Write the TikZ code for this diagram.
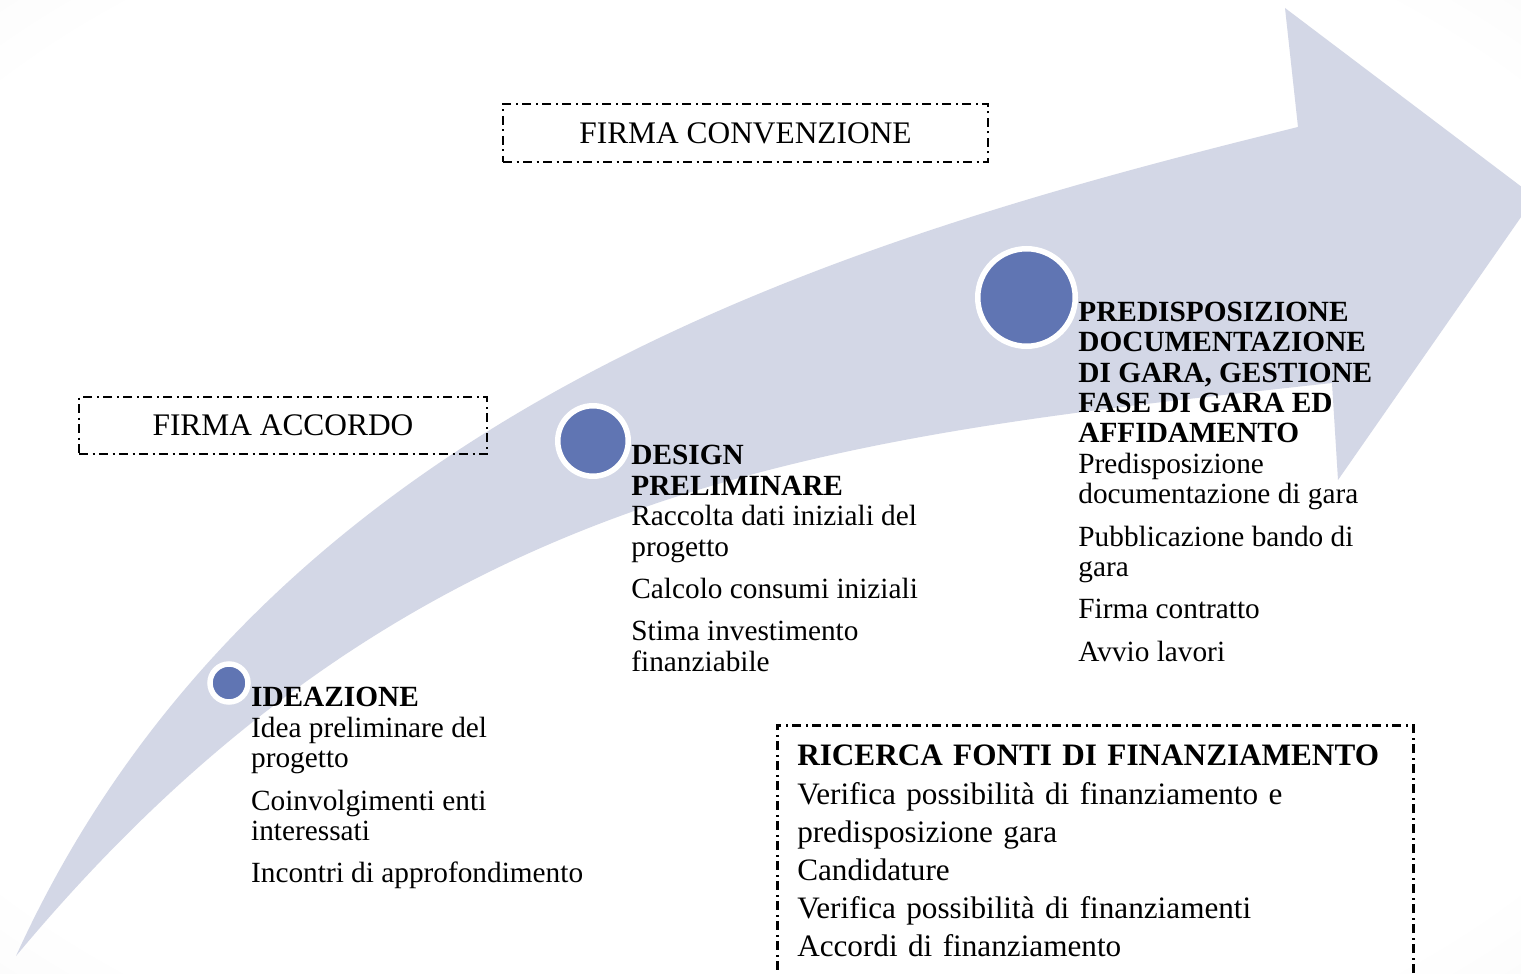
\documentclass[tikz,border=0pt]{standalone}
\usepackage{fontspec}
\setmainfont{Liberation Serif}
\usetikzlibrary{positioning}

\definecolor{bandgray}{RGB}{211,215,230}
\definecolor{stageblue}{RGB}{96,117,179}

\pgfdeclareradialshading{pagebg}{\pgfpoint{0bp}{0bp}}{color(0bp)=(white); color(32bp)=(white); color(50bp)=(black!6); color(71bp)=(black!9)}

\tikzset{%
  % Specifications for style of nodes:
      stagedot/.style = {circle, fill=stageblue, draw=white, line width=2.75pt, inner sep=0pt},
     stagetext/.style = {inner sep=0pt, align=left, font=\fontsize{14.65}{15.2}\selectfont},
    dashframe/.style = {draw=black, line width=1.25pt, dash pattern=on 4.5pt off 2.25pt on 1pt off 2.25pt},
      firmabox/.style = {dashframe, inner sep=0pt, font=\fontsize{15.7}{18}\selectfont},
}

\begin{document}
\begin{tikzpicture}[x=0.5pt, y=-0.5pt]
    % Draw background
    \useasboundingbox (0,0) rectangle (1521,974);
    \clip (0,0) rectangle (1521,974);
    \shade[shading=pagebg] (0,0) rectangle (1521,974);

    % Draw arrow
    \fill[bandgray] (16,956) .. controls (266,406) and (848,238) .. (1298,127)
        -- (1285,8) -- (1535,197) -- (1338,480) -- (1332,383)
        .. controls (832,438) and (416,476) .. (16,956) -- cycle;

    % Draw nodes
    \node (accordo)     [firmabox, minimum width=204pt, minimum height=28.5pt] at (283,425.5) {FIRMA ACCORDO};
    \node (convenzione) [firmabox, minimum width=242.5pt, minimum height=29pt]  at (745.5,133)  {FIRMA CONVENZIONE};

    \node (idea)        [stagedot, minimum size=19pt]    at (229,683)      {};
    \node (design)      [stagedot, minimum size=35.25pt] at (593,441)      {};
    \node (gara)        [stagedot, minimum size=48.75pt] at (1026.5,297.5) {};

    \node (ideatext)    [stagetext, below right=2pt and 0pt of idea.east]
        {\textbf{IDEAZIONE}\\ Idea preliminare del\\ progetto\\[6pt] Coinvolgimenti enti\\ interessati\\[6pt] Incontri di approfondimento};
    \node (designtext)  [stagetext, below right=2pt and 0pt of design.east]
        {\textbf{DESIGN}\\ \textbf{PRELIMINARE}\\ Raccolta dati iniziali del\\ progetto\\[6pt] Calcolo consumi iniziali\\[6pt] Stima investimento\\ finanziabile};
    \node (garatext)    [stagetext, below right=2pt and 0pt of gara.east]
        {\textbf{PREDISPOSIZIONE}\\ \textbf{DOCUMENTAZIONE}\\ \textbf{DI GARA, GESTIONE}\\ \textbf{FASE DI GARA ED}\\ \textbf{AFFIDAMENTO}\\ Predisposizione\\ documentazione di gara\\[6pt] Pubblicazione bando di\\ gara\\[6pt] Firma contratto\\[6pt] Avvio lavori};

    \node (ricerca)     [dashframe, anchor=north west, text width=298pt, inner xsep=10pt, inner ysep=10pt, align=left, font=\fontsize{15.6}{19.1}\selectfont] at (776,724)
        {\textbf{RICERCA FONTI DI FINANZIAMENTO}\\ Verifica possibilità di finanziamento e\\ predisposizione gara\\ Candidature\\ Verifica possibilità di finanziamenti\\ Accordi di finanziamento};

\end{tikzpicture}
\end{document}
